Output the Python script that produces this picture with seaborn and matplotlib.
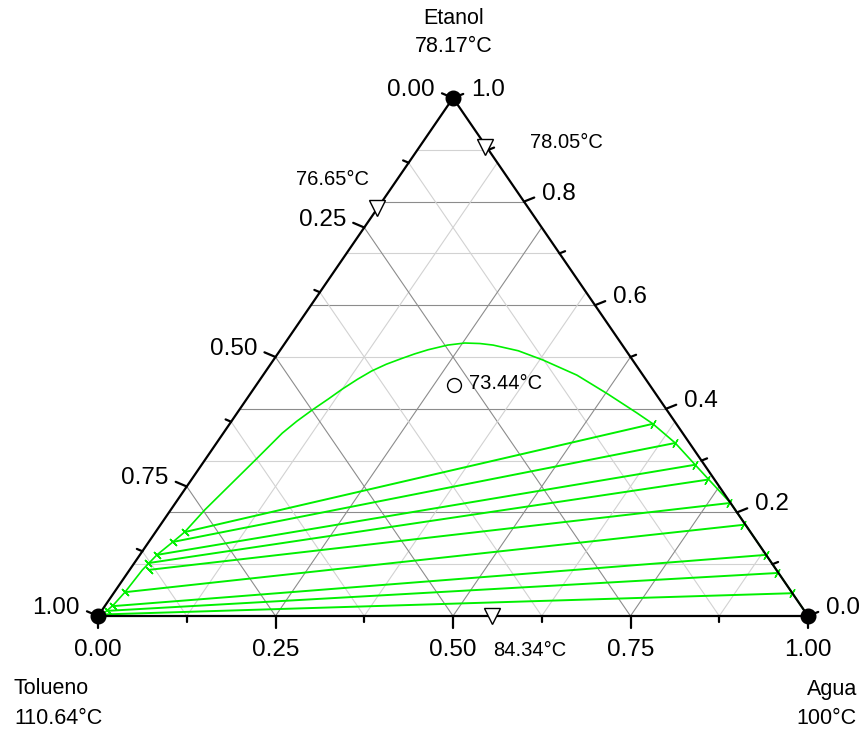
import numpy as np
import pandas as pd
import matplotlib.pyplot as plt
import seaborn as sns

# Binodal curve: mole fractions of water and ethanol (toluene = 1 - water - ethanol)
binodal_water = [0.000, 0.005, 0.008, 0.011, 0.015, 0.018, 0.024, 0.034, 0.041, 0.048,
                 0.059, 0.071, 0.083, 0.092, 0.103, 0.115, 0.125, 0.137, 0.149, 0.163,
                 0.179, 0.193, 0.208, 0.231, 0.253, 0.275, 0.295, 0.336, 0.380, 0.442,
                 0.503, 0.563, 0.596, 0.646, 0.695, 0.729, 0.782, 0.824, 0.882, 0.917,
                 0.956, 1.000]
binodal_ethanol = [0.000, 0.004, 0.012, 0.021, 0.046, 0.089, 0.118, 0.143, 0.162, 0.205,
                   0.251, 0.301, 0.353, 0.376, 0.398, 0.419, 0.438, 0.457, 0.473, 0.486,
                   0.497, 0.506, 0.514, 0.523, 0.527, 0.526, 0.523, 0.512, 0.494, 0.465,
                   0.429, 0.392, 0.371, 0.334, 0.292, 0.263, 0.218, 0.176, 0.118, 0.083,
                   0.044, 0.000]

# Tie lines: organic (toluene rich) end and aqueous end
tie_org_water = [0.041, 0.034, 0.024, 0.019, 0.027, 0.015, 0.011, 0.009, 0.006, 0.000]
tie_org_ethanol = [0.162, 0.143, 0.118, 0.102, 0.089, 0.046, 0.019, 0.010, 0.003, 0.000]
tie_aq_water = [0.596, 0.646, 0.695, 0.726, 0.780, 0.821, 0.882, 0.915, 0.956, 1.000]
tie_aq_ethanol = [0.371, 0.334, 0.292, 0.263, 0.218, 0.176, 0.118, 0.083, 0.044, 0.000]

# Binary azeotropes (water, ethanol) and their boiling points
azeo_water = [0.093, 0.000, 0.555]
azeo_ethanol = [0.905, 0.787, 0.000]
azeo_labels = ['78.05°C', '76.65°C', '84.34°C']

# Ternary azeotrope
tern_azeo_water = [0.278]
tern_azeo_ethanol = [0.446]
tern_azeo_label = '73.44°C'

# Pure components: Etanol, Tolueno, Agua
pure_water = [0.0, 0.0, 1.0]
pure_ethanol = [1.0, 0.0, 0.0]
pure_names = ['Etanol', 'Tolueno', 'Agua']
pure_temps = ['78.17°C', '110.64°C', '100°C']

# Axis ticks
bottom_ticks = [0.0, 0.25, 0.5, 0.75, 1.0]          # water
bottom_labels = ['0.00', '0.25', '0.50', '0.75', '1.00']
left_ticks = [0.0, 0.25, 0.5, 0.75, 1.0]            # toluene
left_labels = ['0.00', '0.25', '0.50', '0.75', '1.00']
right_ticks = [0.0, 0.2, 0.4, 0.6, 0.8, 1.0]        # ethanol
right_labels = ['0.0', '0.2', '0.4', '0.6', '0.8', '1.0']


def tern(w, e):
    w = np.asarray(w, dtype=float)
    e = np.asarray(e, dtype=float)
    return w + 0.5 * e, e


sns.set_style('white')
plt.rcParams['font.family'] = ['Liberation Sans', 'DejaVu Sans']
plt.rcParams['text.color'] = 'black'

fig = plt.figure(figsize=(8.65, 7.36), dpi=100)
ax = fig.add_axes([98 / 865, 120 / 736, 710 / 865, 518 / 736])
ax.set_xlim(0, 1)
ax.set_ylim(0, 1)
ax.axis('off')

PX, PY = 1 / 710, 1 / 518   # one pixel in data units
green = '#00f000'
dark, light = '#8c8c8c', '#d2d2d2'

# grid
for i in range(1, 10):
    e = i / 10
    ax.plot([0.5 * e, 1 - 0.5 * e], [e, e], color=dark if i % 2 == 0 else light, lw=0.8, zorder=1)
for i in range(1, 8):
    f = i / 8
    c = dark if i % 2 == 0 else light
    x0, y0 = tern(f, 0)
    x1, y1 = tern(f, 1 - f)
    ax.plot([x0, x1], [y0, y1], color=c, lw=0.8, zorder=1)
    x0, y0 = tern(1 - f, 0)
    x1, y1 = tern(0, 1 - f)
    ax.plot([x0, x1], [y0, y1], color=c, lw=0.8, zorder=1)

# binodal curve
bx, by = tern(binodal_water, binodal_ethanol)
sns.lineplot(x=bx, y=by, sort=False, color=green, lw=1.2, ax=ax, zorder=2)

# tie lines
ox, oy = tern(tie_org_water, tie_org_ethanol)
qx, qy = tern(tie_aq_water, tie_aq_ethanol)
n = len(ox)
ties = pd.DataFrame({'x': np.concatenate([ox, qx]), 'y': np.concatenate([oy, qy]),
                     'tie': list(range(n)) * 2})
sns.lineplot(data=ties, x='x', y='y', units='tie', estimator=None, sort=False,
             color=green, lw=1.4, ax=ax, legend=False, zorder=2)
ax.plot(ox[:-1], oy[:-1], ls='none', marker=(2, 2, 45), ms=7, mew=1.0, color=green, zorder=2)
ax.plot(qx[:-1], qy[:-1], ls='none', marker=(2, 2, -30), ms=7, mew=1.0, color=green, zorder=2)

# triangle
ax.plot([0, 1, 0.5, 0], [0, 0, 1, 0], color='k', lw=1.6, clip_on=False, zorder=3,
        solid_joinstyle='miter')

# ticks and tick labels
tick_font = 17.5
for i in range(9):
    w = i / 8
    L = 12 if i % 2 == 0 else 6
    ax.plot([w, w], [0, -L * PY], color='k', lw=1.6, clip_on=False, zorder=3)
for i in range(9):
    t = i / 8
    x, y = tern(0, 1 - t)
    L = 12 if i % 2 == 0 else 6
    ax.plot([x, x - 0.92 * L * PX], [y, y + 0.39 * L * PY], color='k', lw=1.6, clip_on=False, zorder=3)
for i in range(11):
    e = i / 10
    x, y = tern(1 - e, e)
    L = 11 if i % 2 == 0 else 6
    ax.plot([x, x + 0.93 * L * PX], [y, y + 0.37 * L * PY], color='k', lw=1.6, clip_on=False, zorder=3)

for w, lab in zip(bottom_ticks, bottom_labels):
    ax.annotate(lab, (w, 0), xytext=(0, -34), textcoords='offset pixels',
                ha='center', va='center', fontsize=tick_font)
for t, lab in zip(left_ticks, left_labels):
    x, y = tern(0, 1 - t)
    ax.annotate(lab, (x, y), xytext=(-18, 8), textcoords='offset pixels',
                ha='right', va='center', fontsize=tick_font)
for e, lab in zip(right_ticks, right_labels):
    x, y = tern(1 - e, e)
    ax.annotate(lab, (x, y), xytext=(18, 8), textcoords='offset pixels',
                ha='left', va='center', fontsize=tick_font)

# pure components
px_, py_ = tern(pure_water, pure_ethanol)
ax.plot(px_, py_, ls='none', marker='o', ms=10.5, color='k', clip_on=False, zorder=5)
name_offsets = [((1, 80), (1, 51), 'center'), ((-84, -73), (-84, -102), 'left'),
                ((49, -73), (49, -102), 'right')]
for x, y, name, temp, (o1, o2, ha) in zip(px_, py_, pure_names, pure_temps, name_offsets):
    ax.annotate(name, (x, y), xytext=o1, textcoords='offset pixels', ha=ha, va='center', fontsize=15.5)
    ax.annotate(temp, (x, y), xytext=o2, textcoords='offset pixels', ha=ha, va='center', fontsize=15.5)

# azeotropes
axx, axy = tern(azeo_water, azeo_ethanol)
ax.plot(axx, axy, ls='none', marker='v', ms=11.5, mfc='white', mec='k', mew=1.0,
        clip_on=False, zorder=5)
azeo_offsets = [((45, 5), 'left'), ((-8, 29), 'right'), ((1, -35), 'left')]
for x, y, lab, (off, ha) in zip(axx, axy, azeo_labels, azeo_offsets):
    ax.annotate(lab, (x, y), xytext=off, textcoords='offset pixels', ha=ha, va='center', fontsize=14.5)

tx, ty = tern(tern_azeo_water, tern_azeo_ethanol)
ax.plot(tx, ty, ls='none', marker='o', ms=10, mfc='white', mec='k', mew=1.0, zorder=5)
ax.annotate(tern_azeo_label, (tx[0], ty[0]), xytext=(15, 1), textcoords='offset pixels',
            ha='left', va='center', fontsize=14.5)

fig.savefig('out.png', dpi=100)
